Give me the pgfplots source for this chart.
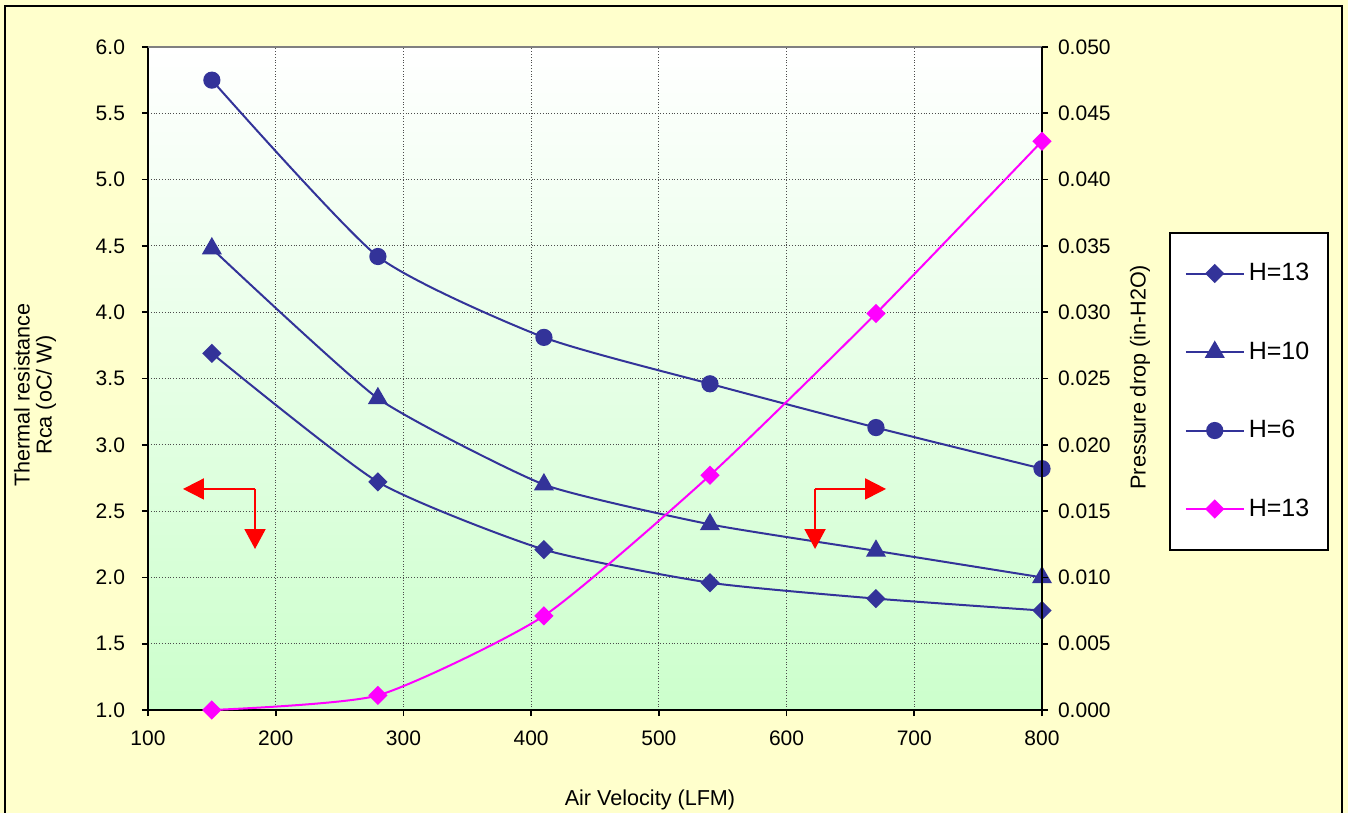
\documentclass[border=0pt]{standalone}
\usepackage{pgfplots}
\pgfplotsset{compat=1.18}
\usepackage{fontspec}
\setmainfont{Liberation Sans}
\usetikzlibrary{arrows.meta}
\definecolor{bgyellow}{RGB}{255,255,204}
\definecolor{plotgreen}{RGB}{204,255,204}
\definecolor{navy}{RGB}{51,51,153}
\definecolor{mag}{RGB}{255,0,255}
\pgfplotsset{
  common/.style={
    width=447pt, height=331.5pt, scale only axis,
    xmin=100, xmax=800,
    tick align=outside,
    major tick length=3pt,
    tick style={black, line width=0.8pt},
    axis line style={black, line width=1pt},
    /pgf/number format/assume math mode=true,
    ticklabel style={font=\fontsize{10.5}{12}\selectfont},
    label style={font=\fontsize{10.8}{11}\selectfont},
  },
  diam/.style={navy, line width=1pt, mark=square*, mark size=2.9pt, mark options={rotate=45, solid}},
  tri/.style={navy, line width=1pt, mark=triangle*, mark size=4.8pt},
  circ/.style={navy, line width=1pt, mark=*, mark size=3.8pt},
  mdiam/.style={mag, line width=1pt, mark=square*, mark size=2.9pt, mark options={rotate=45, solid}},
}
\begin{document}
\begin{tikzpicture}
\fill[bgyellow] (-74pt,-51.5pt) rectangle (600pt,355pt);
\useasboundingbox (-74pt,-51.5pt) rectangle (600pt,355pt);
\draw[black, line width=0.8pt] (-71.5pt,-60pt) -- (-71.5pt,352pt) -- (597pt,352pt) -- (597pt,-60pt);
\begin{axis}[common,
  ymin=1, ymax=6,
  axis x line*=bottom, axis y line*=left,
  axis background/.style={top color=white, bottom color=plotgreen},
  xtick={100,200,300,400,500,600,700,800},
  ytick={1,1.5,2,2.5,3,3.5,4,4.5,5,5.5,6},
  yticklabel style={/pgf/number format/fixed, /pgf/number format/fixed zerofill, /pgf/number format/precision=1, xshift=-5pt},
  grid=major,
  major grid style={black!70, densely dotted, line width=0.6pt},
  xlabel={Air Velocity (LFM)},
  xlabel style={at={(axis description cs:0.5615,-0.136)}, anchor=center},
  ylabel={Thermal resistance\\Rca (oC/ W)},
  ylabel style={align=center, at={(axis description cs:-0.1264,0.475)}, anchor=center},
  xticklabel style={yshift=-4pt},
]
\draw[gray, line width=0.8pt] (rel axis cs:0,1) -- (rel axis cs:1,1);
\addplot[diam, smooth, tension=0.35] coordinates {(150,3.69) (280,2.72) (410,2.21) (540,1.96) (670,1.84) (800,1.75)};
\addplot[tri, smooth, tension=0.3] coordinates {(150,4.48) (280,3.35) (410,2.70) (540,2.40) (670,2.20) (800,2.00)};
\addplot[circ, smooth, tension=0.35] coordinates {(150,5.75) (280,4.42) (410,3.81) (540,3.46) (670,3.13) (800,2.82)};
\draw[red, line width=0.9pt, -{Triangle[length=10.5pt, width=10.5pt]}] (axis cs:183.8,2.667) -- (axis cs:127.4,2.667);
\draw[red, line width=0.9pt, -{Triangle[length=10pt, width=10.5pt]}] (axis cs:183.8,2.667) -- (axis cs:183.8,2.214);
\draw[red, line width=0.9pt, -{Triangle[length=10.5pt, width=10.5pt]}] (axis cs:622.3,2.667) -- (axis cs:677.9,2.667);
\draw[red, line width=0.9pt, -{Triangle[length=10pt, width=10.5pt]}] (axis cs:622.3,2.667) -- (axis cs:622.3,2.214);
\end{axis}
\begin{axis}[common,
  ymin=0, ymax=0.05,
  axis x line=none, axis y line*=right,
  ytick={0,0.005,0.01,0.015,0.02,0.025,0.03,0.035,0.04,0.045,0.05},
  scaled y ticks=false,
  yticklabel style={/pgf/number format/fixed, /pgf/number format/fixed zerofill, /pgf/number format/precision=3, xshift=1.5pt},
  ylabel={Pressure drop (in-H2O)},
  ylabel style={at={(axis description cs:1.1096,0.502)}, anchor=center},
  legend style={at={(axis description cs:1.142,0.721)}, anchor=north west,
    draw=black, line width=0.8pt, fill=white, font=\fontsize{12.5}{14}\selectfont,
    inner xsep=7.5pt, inner ysep=13.3pt, row sep=25pt, cells={anchor=west}},
  legend image code/.code={\draw[mark repeat=2,mark phase=2,#1] plot coordinates {(0pt,0pt) (14.5pt,0pt) (29pt,0pt)};},
  legend entries={H=13,H=10,H=6,H=13},
]
\addlegendimage{diam}
\addlegendimage{tri}
\addlegendimage{circ}
\addplot[mdiam, smooth, tension=0.35] coordinates {(150,0.0) (280,0.0011) (410,0.0071) (540,0.0177) (670,0.0299) (800,0.0429)};
\end{axis}
\end{tikzpicture}
\end{document}
